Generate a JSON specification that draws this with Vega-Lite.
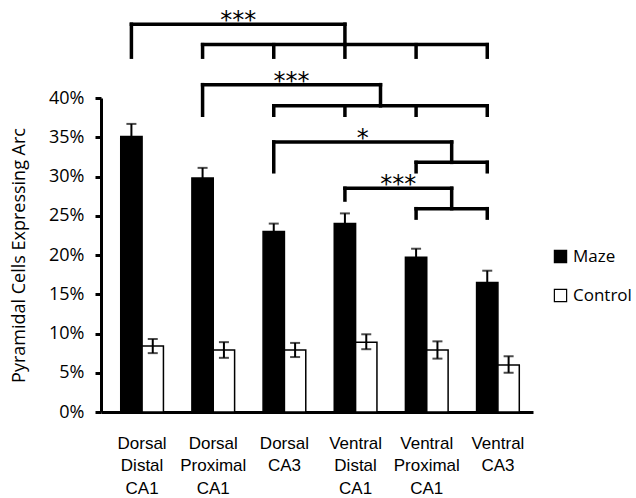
{
  "$schema": "https://vega.github.io/schema/vega-lite/v6.json",
  "width": 432,
  "height": 314,
  "padding": {"left": 10, "top": 9, "right": 0, "bottom": 0},
  "background": "white",
  "config": {
    "view": {"stroke": null},
    "axis": {"grid": false},
    "axisY": {
      "labelFont": "Open Sans", "labelFontSize": 18, "labelColor": "black", "labelPadding": 11,
      "titleFont": "Open Sans", "titleFontSize": 18, "titleFontWeight": "normal", "titleColor": "black",
      "titlePadding": 20, "domainColor": "black", "domainWidth": 3, "tickColor": "black",
      "tickWidth": 3, "tickSize": 6, "labelOverlap": false
    }
  },
  "datasets": {
    "cells": [
      {"region": "Dorsal Distal CA1", "condition": "Maze", "value": 35.1, "lo": 33.5, "hi": 36.7},
      {"region": "Dorsal Distal CA1", "condition": "Control", "value": 8.4, "lo": 7.5, "hi": 9.3},
      {"region": "Dorsal Proximal CA1", "condition": "Maze", "value": 29.8, "lo": 28.5, "hi": 31.1},
      {"region": "Dorsal Proximal CA1", "condition": "Control", "value": 7.9, "lo": 6.9, "hi": 8.9},
      {"region": "Dorsal CA3", "condition": "Maze", "value": 23.0, "lo": 22.0, "hi": 24.0},
      {"region": "Dorsal CA3", "condition": "Control", "value": 7.9, "lo": 7.0, "hi": 8.8},
      {"region": "Ventral Distal CA1", "condition": "Maze", "value": 24.0, "lo": 22.8, "hi": 25.3},
      {"region": "Ventral Distal CA1", "condition": "Control", "value": 8.9, "lo": 8.0, "hi": 9.9},
      {"region": "Ventral Proximal CA1", "condition": "Maze", "value": 19.7, "lo": 18.6, "hi": 20.8},
      {"region": "Ventral Proximal CA1", "condition": "Control", "value": 7.9, "lo": 6.8, "hi": 9.0},
      {"region": "Ventral CA3", "condition": "Maze", "value": 16.5, "lo": 15.0, "hi": 18.0},
      {"region": "Ventral CA3", "condition": "Control", "value": 6.0, "lo": 5.0, "hi": 7.1}
    ],
    "brackets": [
      {"x1": 1, "x2": 4, "y1": 49.4, "y2": 49.4},
      {"x1": 1, "x2": 1, "y1": 49.4, "y2": 45.2},
      {"x1": 4, "x2": 4, "y1": 49.4, "y2": 46.8},
      {"x1": 2, "x2": 6, "y1": 46.8, "y2": 46.8},
      {"x1": 2, "x2": 2, "y1": 46.8, "y2": 45.2},
      {"x1": 3, "x2": 3, "y1": 46.8, "y2": 45.2},
      {"x1": 4, "x2": 4, "y1": 46.8, "y2": 45.2},
      {"x1": 5, "x2": 5, "y1": 46.8, "y2": 45.2},
      {"x1": 6, "x2": 6, "y1": 46.8, "y2": 45.2},
      {"x1": 2, "x2": 4.5, "y1": 41.7, "y2": 41.7},
      {"x1": 2, "x2": 2, "y1": 41.7, "y2": 37.8},
      {"x1": 4.5, "x2": 4.5, "y1": 41.7, "y2": 39.0},
      {"x1": 3, "x2": 6, "y1": 39.0, "y2": 39.0},
      {"x1": 3, "x2": 3, "y1": 39.0, "y2": 37.8},
      {"x1": 4, "x2": 4, "y1": 39.0, "y2": 37.8},
      {"x1": 5, "x2": 5, "y1": 39.0, "y2": 37.8},
      {"x1": 6, "x2": 6, "y1": 39.0, "y2": 37.8},
      {"x1": 3, "x2": 5.5, "y1": 34.4, "y2": 34.4},
      {"x1": 3, "x2": 3, "y1": 34.4, "y2": 30.6},
      {"x1": 5.5, "x2": 5.5, "y1": 34.4, "y2": 31.8},
      {"x1": 5, "x2": 6, "y1": 31.8, "y2": 31.8},
      {"x1": 5, "x2": 5, "y1": 31.8, "y2": 30.6},
      {"x1": 6, "x2": 6, "y1": 31.8, "y2": 30.6},
      {"x1": 4, "x2": 5.5, "y1": 28.5, "y2": 28.5},
      {"x1": 4, "x2": 4, "y1": 28.5, "y2": 27.0},
      {"x1": 5.5, "x2": 5.5, "y1": 28.5, "y2": 25.9},
      {"x1": 5, "x2": 6, "y1": 25.9, "y2": 25.9},
      {"x1": 5, "x2": 5, "y1": 25.9, "y2": 24.7},
      {"x1": 6, "x2": 6, "y1": 25.9, "y2": 24.7}
    ],
    "stars": [
      {"x": 2.5, "y": 49.4, "label": "***"},
      {"x": 3.25, "y": 41.7, "label": "***"},
      {"x": 4.25, "y": 34.4, "label": "*"},
      {"x": 4.75, "y": 28.5, "label": "***"}
    ]
  },
  "layer": [
    {
      "data": {"name": "cells"},
      "encoding": {
        "x": {
          "field": "region", "type": "nominal", "sort": null,
          "scale": {"paddingInner": 0.4, "paddingOuter": 0.235, "align": 0.59},
          "axis": {
            "title": null, "labelAngle": 0, "labelFont": "Liberation Sans", "labelFontSize": 17,
            "labelColor": "black", "labelLineHeight": 22.5, "labelBaseline": "top", "labelPadding": 23,
            "labelExpr": "split(datum.label, ' ')", "ticks": false, "domainColor": "black", "domainWidth": 3
          }
        },
        "xOffset": {"field": "condition", "type": "nominal", "sort": ["Maze", "Control"]}
      },
      "layer": [
        {
          "mark": {"type": "bar", "stroke": "black", "strokeWidth": 1.5},
          "encoding": {
            "y": {
              "field": "value", "type": "quantitative",
              "title": "Pyramidal Cells Expressing Arc",
              "scale": {"domain": [0, 40], "nice": false, "zero": true},
              "axis": {"values": [0, 5, 10, 15, 20, 25, 30, 35, 40], "labelExpr": "datum.value + '%'"}
            },
            "color": {
              "field": "condition", "type": "nominal",
              "scale": {"domain": ["Maze", "Control"], "range": ["black", "white"]},
              "legend": {
                "title": null, "orient": "none", "legendX": 451, "legendY": 150, "symbolType": "square",
                "symbolSize": 150, "symbolStrokeColor": "black", "symbolStrokeWidth": 1.2,
                "labelFont": "Open Sans", "labelFontSize": 17, "labelColor": "black", "rowPadding": 20,
                "labelOffset": 4, "padding": 0
              }
            }
          }
        },
        {
          "mark": {"type": "rule", "color": "black", "strokeWidth": 2},
          "encoding": {
            "y": {"field": "lo", "type": "quantitative", "title": "Pyramidal Cells Expressing Arc", "scale": {"domain": [0, 40], "nice": false},
              "axis": {"values": [0, 5, 10, 15, 20, 25, 30, 35, 40], "labelExpr": "datum.value + '%'"}},
            "y2": {"field": "hi"}
          }
        },
        {
          "mark": {"type": "tick", "color": "black", "thickness": 2, "size": 10},
          "encoding": {
            "y": {"field": "lo", "type": "quantitative", "title": "Pyramidal Cells Expressing Arc", "scale": {"domain": [0, 40], "nice": false},
              "axis": {"values": [0, 5, 10, 15, 20, 25, 30, 35, 40], "labelExpr": "datum.value + '%'"}}
          }
        },
        {
          "mark": {"type": "tick", "color": "black", "thickness": 2, "size": 10},
          "encoding": {
            "y": {"field": "hi", "type": "quantitative", "title": "Pyramidal Cells Expressing Arc", "scale": {"domain": [0, 40], "nice": false},
              "axis": {"values": [0, 5, 10, 15, 20, 25, 30, 35, 40], "labelExpr": "datum.value + '%'"}}
          }
        }
      ]
    },
    {
      "layer": [
        {
          "data": {"name": "brackets"},
          "mark": {"type": "rule", "color": "black", "strokeWidth": 3.5, "strokeCap": "square"},
          "encoding": {
            "x": {"field": "x1", "type": "quantitative", "scale": {"domain": [0.5727, 6.6427], "nice": false, "zero": false}, "axis": null},
            "x2": {"field": "x2"},
            "y": {"field": "y1", "type": "quantitative", "title": "Pyramidal Cells Expressing Arc", "scale": {"domain": [0, 40], "nice": false},
              "axis": {"values": [0, 5, 10, 15, 20, 25, 30, 35, 40], "labelExpr": "datum.value + '%'"}},
            "y2": {"field": "y2"}
          }
        },
        {
          "data": {"name": "stars"},
          "mark": {"type": "text", "font": "DejaVu Sans", "fontSize": 24, "dy": 4, "baseline": "alphabetic", "color": "black"},
          "encoding": {
            "x": {"field": "x", "type": "quantitative", "scale": {"domain": [0.5727, 6.6427], "nice": false, "zero": false}, "axis": null},
            "y": {"field": "y", "type": "quantitative", "title": "Pyramidal Cells Expressing Arc", "scale": {"domain": [0, 40], "nice": false},
              "axis": {"values": [0, 5, 10, 15, 20, 25, 30, 35, 40], "labelExpr": "datum.value + '%'"}},
            "text": {"field": "label"}
          }
        }
      ]
    }
  ],
  "resolve": {"scale": {"x": "independent"}, "axis": {"x": "independent"}}
}
